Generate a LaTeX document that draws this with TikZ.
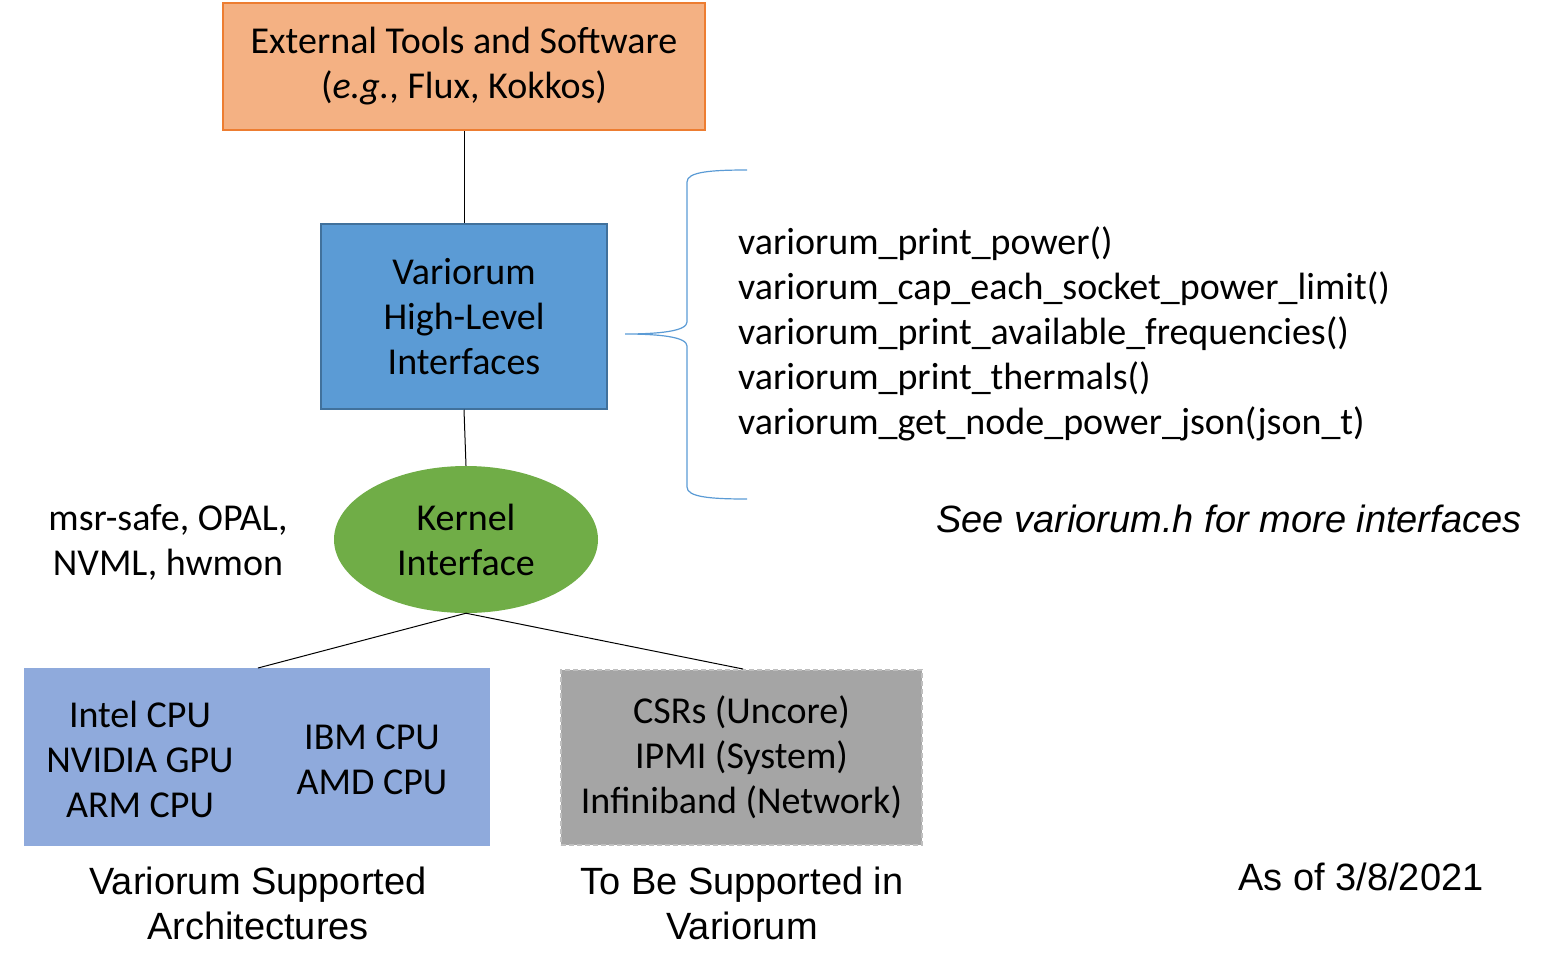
\documentclass[tikz,border=0pt]{standalone}
\usepackage{fontspec}
\setmainfont{Carlito}
\newfontfamily\arialfont{Liberation Sans}
\usetikzlibrary{shapes.geometric}
\definecolor{orangefill}{HTML}{F4B183}
\definecolor{orangeline}{HTML}{ED7D31}
\definecolor{bluefill}{HTML}{5B9BD5}
\definecolor{blueline}{HTML}{41719C}
\definecolor{greenfill}{HTML}{70AD47}
\definecolor{lightbluefill}{HTML}{8FAADC}
\definecolor{greyfill}{HTML}{A5A5A5}
\definecolor{greyline}{HTML}{BFBFBF}
\definecolor{braceblue}{HTML}{5B9BD5}
\tikzset{
  cal/.style={font=\fontsize{38}{45}\selectfont, align=center, inner sep=0pt},
  ari/.style={font=\arialfont\fontsize{38}{45}\selectfont, align=center, inner sep=0pt},
  conn/.style={draw=black, line width=1pt},
}
\begin{document}
\begin{tikzpicture}[x=1pt,y=-1pt]
\useasboundingbox (0,0) rectangle (1543,970);
% boxes
\node[cal, draw=orangeline, fill=orangefill, line width=2pt, minimum width=482pt, minimum height=127pt] (ext) at (464,66.5) {External Tools and Software\\(\textit{e.g.}, Flux, Kokkos)};
\node[cal, draw=blueline, fill=bluefill, line width=1.5pt, minimum width=286pt, minimum height=185pt] (hl) at (464,316.5) {Variorum\\High-Level\\Interfaces};
\node[cal, ellipse, fill=greenfill, minimum width=264pt, minimum height=147pt] (ki) at (466,539.5) {Kernel\\Interface};
\node[cal] (msr) at (168,542) {msr-safe, OPAL,\\NVML, hwmon};
\node[fill=lightbluefill, minimum width=466pt, minimum height=178pt, inner sep=0pt] (sup) at (257,757) {};
\node[cal] (supl) at (140,759) {Intel CPU\\NVIDIA GPU\\ARM CPU};
\node[cal] (supr) at (372,759.5) {IBM CPU\\AMD CPU};
\node[cal, fill=greyfill, draw=greyline, line width=2pt, dash pattern=on 5pt off 3pt, minimum width=361pt, minimum height=175pt] (tbs) at (741.5,757.5) {CSRs (Uncore)\\IPMI (System)\\Infiniband (Network)};
\node[ari] (capl) at (258,903) {Variorum Supported\\Architectures};
\node[ari] (capr) at (742,903) {To Be Supported in\\Variorum};
\node[ari] (date) at (1361,877) {As of 3/8/2021};
\node[ari, font=\arialfont\itshape\fontsize{38}{45}\selectfont] (see) at (1229,519) {See variorum.h for more interfaces};
\node[cal, align=left, anchor=west] (funcs) at (738,334) {variorum\_print\_power()\\variorum\_cap\_each\_socket\_power\_limit()\\variorum\_print\_available\_frequencies()\\variorum\_print\_thermals()\\variorum\_get\_node\_power\_json(json\_t)};
% connectors
\draw[conn] (ext.south) -- (hl.north);
\draw[conn] (hl.south) -- (ki.north);
\coordinate (supTop) at (258,668);
\coordinate (tbsTop) at (743,669);
\draw[conn] (ki.south) -- (supTop);
\draw[conn] (ki.south) -- (tbsTop);
% brace
\draw[braceblue, line width=1.2pt] (747,170) .. controls (710,170) and (687,172) .. (687,182)
  -- (687,322) .. controls (687,331) and (660,334) .. (625,334)
  .. controls (660,334) and (687,337) .. (687,346)
  -- (687,487) .. controls (687,497) and (710,499) .. (747,499);
\end{tikzpicture}
\end{document}
